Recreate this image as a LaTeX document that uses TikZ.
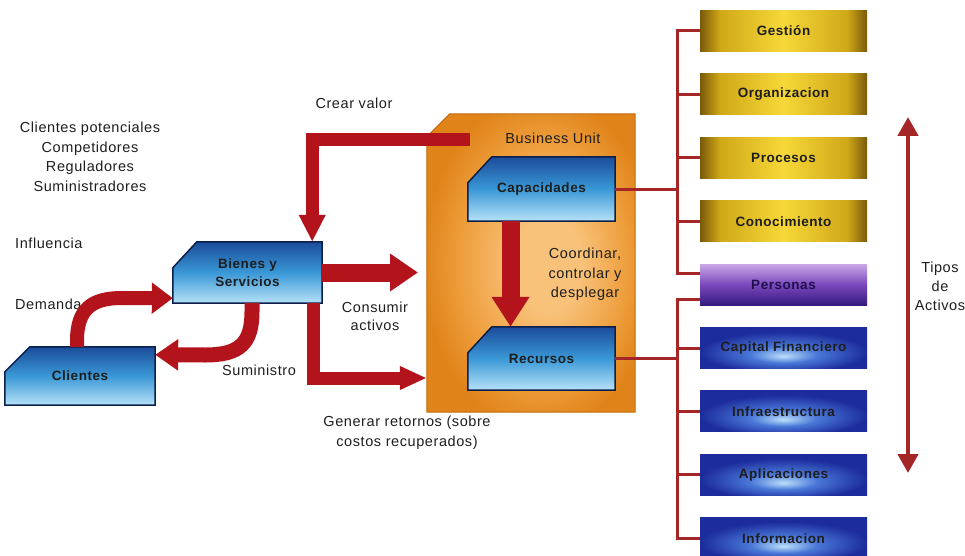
\documentclass[tikz,border=0pt]{standalone}
\usepackage{fontspec}
\setmainfont[LetterSpace=4]{Liberation Sans}
\usetikzlibrary{arrows.meta}
\pgfdeclarelayer{background}
\pgfsetlayers{background,main}

\definecolor{arrowred}{HTML}{B3141C}
\definecolor{linkred}{HTML}{A52626}
\definecolor{inkdark}{HTML}{1E1E1E}
\definecolor{golddk}{HTML}{785A0A}
\definecolor{goldmd}{HTML}{D0A818}
\definecolor{goldlt}{HTML}{F6D838}
\definecolor{bluedk}{HTML}{1C2C9C}
\definecolor{bluemd}{HTML}{4A78D8}
\definecolor{bluelt}{HTML}{BCE0FA}
\definecolor{violtop}{HTML}{C8A8E6}
\definecolor{violmid}{HTML}{7A48BC}
\definecolor{violbot}{HTML}{361A80}
\definecolor{capetop}{HTML}{1B4C9A}
\definecolor{capemid}{HTML}{3A98D6}
\definecolor{capebot}{HTML}{B6E2F8}
\definecolor{capeedge}{HTML}{0C1F4A}
\definecolor{orlt}{HTML}{F8C27A}
\definecolor{ormd}{HTML}{EE9E3C}
\definecolor{ordk}{HTML}{E0841A}
\definecolor{oredge}{HTML}{C46A0C}

% gold bars: dark sides, bright middle
\pgfdeclarehorizontalshading{goldbar}{100bp}{color(0bp)=(golddk); color(25bp)=(golddk); color(31bp)=(goldmd); color(50bp)=(goldlt); color(69bp)=(goldmd); color(75bp)=(golddk); color(100bp)=(golddk)}
% blue bars: glow low in the middle
\pgfdeclareradialshading{bluebar}{\pgfpoint{0bp}{-10bp}}{color(0bp)=(bluelt); color(10bp)=(bluemd); color(25bp)=(bluedk); color(50bp)=(bluedk)}
% business unit panel
\pgfdeclareradialshading{buglow}{\pgfpoint{5bp}{0bp}}{color(0bp)=(orlt); color(8bp)=(orlt); color(20bp)=(ormd); color(28bp)=(ordk); color(50bp)=(ordk)}

% outline with the top-left corner cut off, behind a named node
\newcommand\cutshape[4]{\path[#4] (#1.south west) -- ([yshift=-#3]#1.north west) -- ([xshift=#2]#1.north west) -- (#1.north east) -- (#1.south east) -- cycle;}

\begin{document}
\begin{tikzpicture}[x=1pt,y=-1pt,
  txt/.style={font=\fontsize{14.5}{19.5}\selectfont, text=inkdark, inner sep=0pt, align=center},
  cutbox/.style={rectangle, inner sep=0pt, font=\bfseries\fontsize{13.5}{18}\selectfont, text=inkdark, align=center},
  capestyle/.style={draw=capeedge, line width=1.5pt, top color=capetop, bottom color=capebot, middle color=capemid},
  asset/.style={rectangle, minimum width=167pt, minimum height=41pt, inner sep=0pt, font=\bfseries\fontsize{13.5}{16}\selectfont, text=inkdark},
  goldasset/.style={asset, shade, shading=goldbar},
  blueasset/.style={asset, shade, shading=bluebar},
  bigarrow/.style={draw=arrowred, line join=miter},
  link/.style={draw=linkred, line width=3pt}]
\useasboundingbox (0,0) rectangle (965,556);

% ---- boxes of the value chain
\node[cutbox, minimum width=149pt, minimum height=61pt] (bienes) at (247.5,272.5) {Bienes y\\Servicios};
\node[cutbox, minimum width=150pt, minimum height=58pt] (clientes) at (80,376) {Clientes};
\node[rectangle, minimum width=208pt, minimum height=298pt, inner sep=0pt] (bu) at (531,263) {};
\node[cutbox, minimum width=147pt, minimum height=64pt] (capac) at (541.5,189) {Capacidades};
\node[cutbox, minimum width=147pt, minimum height=63pt] (recur) at (541.5,358.5) {Recursos};
\node[txt] (butitle) at (553,138) {Business Unit};

\begin{pgfonlayer}{background}
  \cutshape{bu}{23pt}{23pt}{draw=oredge, line width=1pt, shade, shading=buglow}
  \cutshape{bienes}{24pt}{26pt}{capestyle}
  \cutshape{clientes}{25pt}{25pt}{capestyle}
  \cutshape{capac}{24pt}{26pt}{capestyle}
  \cutshape{recur}{24pt}{26pt}{capestyle}
\end{pgfonlayer}

% ---- asset types
\node[goldasset] (gest) at (783.5,31) {Gestión};
\node[goldasset] (orga) at (783.5,94.4) {Organizacion};
\node[goldasset] (proc) at (783.5,157.8) {Procesos};
\node[goldasset] (cono) at (783.5,221.2) {Conocimiento};
\node[asset, top color=violtop, bottom color=violbot, middle color=violmid, text=violbot!60!black] (pers) at (783.5,284.6) {Personas};
\node[blueasset] (capf) at (783.5,348) {Capital Financiero};
\node[blueasset] (infr) at (783.5,411.4) {Infraestructura};
\node[blueasset] (apli) at (783.5,474.8) {Aplicaciones};
\node[blueasset] (info) at (783.5,538.2) {Informacion};

% ---- brackets from capabilities and resources to the asset types
\coordinate (spine) at (677,0);
\coordinate (persU) at ([yshift=11.5pt]pers.west);
\coordinate (persL) at ([yshift=-14.5pt]pers.west);
\draw[link] (gest.west) -- (gest.west -| spine) -- (persU -| spine) -- (persU);
\foreach \n in {orga,proc,cono} \draw[link] (\n.west) -- (\n.west -| spine);
\draw[link] (capac.east) -- (capac.east -| spine);
\draw[link] (persL) -- (persL -| spine) -- (info.west -| spine) -- (info.west);
\foreach \n in {capf,infr,apli} \draw[link] (\n.west) -- (\n.west -| spine);
\draw[link] (recur.east) -- (recur.east -| spine);

% ---- range arrow of the asset types
\coordinate (typTop) at (908,117);
\coordinate (typBot) at (908,473);
\draw[draw=linkred, line width=4.5pt, {Triangle[length=19pt,width=20pt]}-{Triangle[length=19pt,width=20pt]}] (typTop) -- (typBot);
\node[txt, font=\fontsize{14.5}{19}\selectfont] (tipos) at (940,286) {Tipos\\de\\Activos};

% ---- labels
\node[txt] (actors) at (90,157) {Clientes potenciales\\Competidores\\Reguladores\\Suministradores};
\node[txt, anchor=west] (influ) at (15,243) {Influencia};
\node[txt, anchor=west] (dem) at (15,304) {Demanda};
\node[txt] (sumi) at (259,370) {Suministro};
\node[txt] (crear) at (354,103) {Crear valor};
\node[txt, font=\fontsize{14.5}{18}\selectfont] (consu) at (375,316) {Consumir\\activos};
\node[txt] (gener) at (407,432.5) {Generar retornos (sobre\\costos recuperados)};
\node[txt] (coord) at (585,274.5) {Coordinar,\\controlar y\\desplegar};

% ---- flows
\coordinate (valSrc) at (470,140);
\draw[bigarrow, line width=13pt, -{Triangle[length=27pt,width=25pt]}] (valSrc) -| ([xshift=-10pt]bienes.north east);
\coordinate (useTip) at (418,272.5);
\draw[bigarrow, line width=18pt, -{Triangle[length=28pt,width=36pt]}] (bienes.east) -- (useTip);
\draw[bigarrow, line width=13pt, -{Triangle[length=27pt,width=22pt]}] ([xshift=-9pt]bienes.south east) |- ([yshift=-115pt]bu.west);
\draw[bigarrow, line width=18pt, -{Triangle[length=30pt,width=36pt]}] ([xshift=-31pt]capac.south) -- ([xshift=-31pt]recur.north);
\draw[bigarrow, line width=14pt, -{Triangle[length=21pt,width=30pt]}] ([xshift=-3pt]clientes.north) -- ++(0,-6) .. controls +(0,-32) and +(-30,0) .. (122,298) -- ([yshift=5pt]bienes.south west);
\draw[bigarrow, line width=15pt, -{Triangle[length=23pt,width=30pt]}] ([xshift=4.5pt]bienes.south) -- ++(0,8) .. controls +(0,32) and +(35,0) .. (205,355) -- ([yshift=-8pt]clientes.north east);
\end{tikzpicture}
\end{document}
